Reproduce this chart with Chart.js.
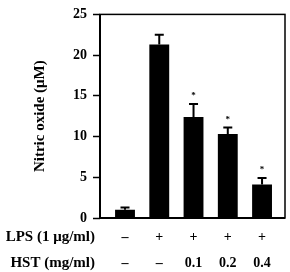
<!DOCTYPE html>
<html>
<head>
<meta charset="utf-8">
<script src="https://cdn.jsdelivr.net/npm/chart.js@4"></script>
<style>
  html, body { margin: 0; padding: 0; background: #fff; }
  #wrap { width: 290px; height: 272px; }
</style>
</head>
<body>
<div id="wrap"><canvas id="noChart" width="290" height="272"></canvas></div>
<script>
// Data
const groups = [1, 2, 3, 4, 5];
const nitricOxide = [1.0, 21.3, 12.4, 10.3, 4.1];
const errUp = [0.3, 1.2, 1.6, 0.8, 0.8];
const starred = [false, false, true, true, true];
const lpsRow = ['–', '+', '+', '+', '+'];
const hstRow = ['–', '–', '0.1', '0.2', '0.4'];
const yTicks = [0, 5, 10, 15, 20, 25];

const serif = '"Liberation Serif", "DejaVu Serif", serif';

// error bars, asterisks, frame and row titles
const extras = {
    id: 'extras',
    afterDatasetsDraw(chart) {
        const ctx = chart.ctx;
        const xs = chart.scales.x, ys = chart.scales.y;
        const area = chart.chartArea;
        ctx.save();
        ctx.strokeStyle = '#000';
        ctx.fillStyle = '#000';
        ctx.lineWidth = 2;
        groups.forEach((g, i) => {
            const x = xs.getPixelForValue(g);
            const yTop = ys.getPixelForValue(nitricOxide[i]);
            const yErr = ys.getPixelForValue(nitricOxide[i] + errUp[i]);
            ctx.beginPath();
            ctx.moveTo(x, yTop);
            ctx.lineTo(x, yErr);
            ctx.moveTo(x - 4.5, yErr);
            ctx.lineTo(x + 4.5, yErr);
            ctx.stroke();
            if (starred[i]) {
                ctx.font = 'bold 9px ' + serif;
                ctx.textAlign = 'center';
                ctx.textBaseline = 'middle';
                ctx.fillText('*', x, yErr - 8);
            }
        });
        // box round the plot
        ctx.lineWidth = 1.5;
        ctx.strokeRect(area.left, area.top, area.right - area.left, area.bottom - area.top);
        ctx.lineWidth = 2;
        ctx.beginPath();
        ctx.moveTo(area.left, area.top);
        ctx.lineTo(area.left, area.bottom);
        ctx.lineTo(area.right, area.bottom);
        ctx.stroke();
        // row titles
        ctx.font = 'bold 15px ' + serif;
        ctx.textAlign = 'right';
        ctx.textBaseline = 'middle';
        ctx.fillText('LPS (1 μg/ml)', 95, 237);
        ctx.fillText('HST (mg/ml)', 95, 263);
        ctx.restore();
    }
};

new Chart(document.getElementById('noChart'), {
    type: 'bar',
    data: {
        datasets: [{
            data: groups.map((g, i) => ({ x: g, y: nitricOxide[i] })),
            backgroundColor: '#000',
            borderWidth: 0,
            barPercentage: 0.58,
            categoryPercentage: 1
        }]
    },
    options: {
        responsive: false,
        animation: false,
        layout: { padding: { top: 11, right: 5, left: 0, bottom: 0 } },
        plugins: { legend: { display: false }, tooltip: { enabled: false } },
        scales: {
            x: {
                type: 'linear',
                offset: false,
                min: 0.27,
                max: 5.67,
                grid: { display: false, drawTicks: false },
                border: { display: false },
                afterBuildTicks: s => { s.ticks = groups.map(v => ({ value: v })); },
                afterFit: s => { s.height = 54; },
                ticks: {
                    color: '#000',
                    padding: 6,
                    maxRotation: 0,
                    autoSkip: false,
                    font: { family: serif, size: 14, weight: 'bold', lineHeight: 1.857 },
                    callback: (v, i) => [lpsRow[i], hstRow[i]]
                }
            },
            y: {
                min: 0,
                max: 25,
                afterBuildTicks: s => { s.ticks = yTicks.map(v => ({ value: v })); },
                afterFit: s => { s.width = 100; },
                grid: { display: true, drawOnChartArea: false, drawTicks: true, tickLength: 7, tickWidth: 1.5, tickColor: '#000', color: '#000' },
                border: { display: false },
                ticks: {
                    color: '#000',
                    padding: 6,
                    font: { family: serif, size: 14, weight: 'bold' }
                },
                title: {
                    display: true,
                    text: 'Nitric oxide (μM)',
                    color: '#000',
                    padding: { top: 31, bottom: 0 },
                    font: { family: serif, size: 15, weight: 'bold' }
                }
            }
        }
    },
    plugins: [extras]
});
</script>
</body>
</html>
